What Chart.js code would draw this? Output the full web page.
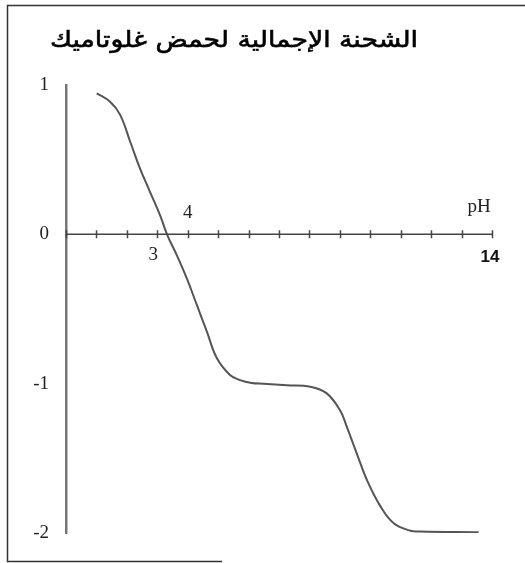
<!DOCTYPE html>
<html>
<head>
<meta charset="utf-8">
<script src="https://cdn.jsdelivr.net/npm/chart.js@4"></script>
<style>
  html, body { margin: 0; padding: 0; background: #fff; }
  #wrap { width: 525px; height: 563px; }
</style>
</head>
<body>
<div id="wrap"><canvas id="chart" width="525" height="563"></canvas></div>
<script>
const titleText = 'الشحنة الإجمالية لحمض غلوتاميك';

// titration curve
const phValues = [1.01, 1.45, 1.78, 2.11, 2.43, 2.76, 3.09, 3.33, 3.64, 3.97, 4.30, 4.63, 4.96, 5.39, 5.72, 6.10, 6.49, 7.26, 8.03, 8.57, 9.01, 9.23, 9.56, 9.89, 10.33, 10.77, 11.32, 11.64, 13.56];
const chargeValues = [0.944, 0.888, 0.80, 0.62, 0.442, 0.285, 0.129, -0.005, -0.139, -0.295, -0.473, -0.652, -0.83, -0.942, -0.976, -0.995, -1.0, -1.01, -1.02, -1.065, -1.18, -1.29, -1.47, -1.645, -1.82, -1.935, -1.985, -1.99, -1.995];

const yTicks = [1, 0, -1, -2];
const xTickValues = [0, 1, 2, 3, 4, 5, 6, 7, 8, 9, 10, 11, 12, 13, 14];
const xLabelsBelow = [3];
const xLabelsAbove = [4];
const xEnd = 14;
const xAxisName = 'pH';

// frame, title, pH axis and its labels
const decorations = {
  id: 'decorations',
  beforeDraw(chart) {
    const ctx = chart.ctx;
    ctx.save();
    ctx.strokeStyle = '#333';
    ctx.lineWidth = 1.5;
    ctx.beginPath();
    ctx.moveTo(525, 5.5);
    ctx.lineTo(7.5, 5.5);
    ctx.lineTo(7.5, 561.5);
    ctx.lineTo(222, 561.5);
    ctx.stroke();

    // title stretched to the width it has in the picture
    ctx.fillStyle = '#000';
    ctx.strokeStyle = '#000';
    ctx.lineWidth = 0.6;
    ctx.font = '23px "DejaVu Sans", sans-serif';
    ctx.direction = 'rtl';
    ctx.textAlign = 'right';
    ctx.textBaseline = 'middle';
    const w = ctx.measureText(titleText).width;
    ctx.translate(418, 41);
    ctx.scale(368 / w, 1);
    ctx.fillText(titleText, 0, 0);
    ctx.strokeText(titleText, 0, 0);
    ctx.restore();
  },
  afterDatasetsDraw(chart) {
    const ctx = chart.ctx;
    const x = chart.scales.x, y = chart.scales.y;
    const y0 = y.getPixelForValue(0);
    ctx.save();
    ctx.strokeStyle = '#444';
    ctx.lineWidth = 1.5;
    ctx.beginPath();
    ctx.moveTo(x.getPixelForValue(0), y0);
    ctx.lineTo(x.getPixelForValue(xEnd), y0);
    xTickValues.forEach(v => {
      const px = Math.round(x.getPixelForValue(v)) + 0.5;
      ctx.moveTo(px, y0 - 4);
      ctx.lineTo(px, y0 + 4);
    });
    ctx.stroke();

    ctx.fillStyle = '#222';
    ctx.font = '19px "Liberation Serif", serif';
    ctx.textAlign = 'center';
    ctx.textBaseline = 'middle';
    xLabelsBelow.forEach(v => ctx.fillText(String(v), x.getPixelForValue(v) - 4, y0 + 21));
    xLabelsAbove.forEach(v => ctx.fillText(String(v), x.getPixelForValue(v), y0 - 21));
    ctx.fillText(xAxisName, x.getPixelForValue(xEnd) - 13, y0 - 27);

    ctx.fillStyle = '#111';
    ctx.font = 'bold 17px "Liberation Sans", sans-serif';
    ctx.fillText(String(xEnd), x.getPixelForValue(xEnd) - 2, y0 + 23);
    ctx.restore();
  }
};

new Chart(document.getElementById('chart'), {
  type: 'line',
  data: {
    datasets: [{
      data: phValues.map((p, i) => ({ x: p, y: chargeValues[i] })),
      borderColor: '#555',
      borderWidth: 2,
      pointRadius: 0,
      fill: false,
      tension: 0.4
    }]
  },
  options: {
    responsive: false,
    animation: false,
    layout: { padding: { left: 0, top: 85, right: 33, bottom: 30 } },
    plugins: { legend: { display: false }, tooltip: { enabled: false } },
    scales: {
      x: { type: 'linear', min: 0, max: xEnd, display: false },
      y: {
        type: 'linear', min: -2, max: 1,
        afterFit(scale) { scale.width = 66; },
        afterBuildTicks(scale) { scale.ticks = yTicks.map(v => ({ value: v })); },
        grid: { display: false },
        border: { display: true, color: '#777', width: 2.5 },
        ticks: {
          padding: 9,
          color: '#222',
          font: { family: '"Liberation Serif", serif', size: 19 },
          callback: v => String(v)
        }
      }
    }
  },
  plugins: [decorations]
});
</script>
</body>
</html>
